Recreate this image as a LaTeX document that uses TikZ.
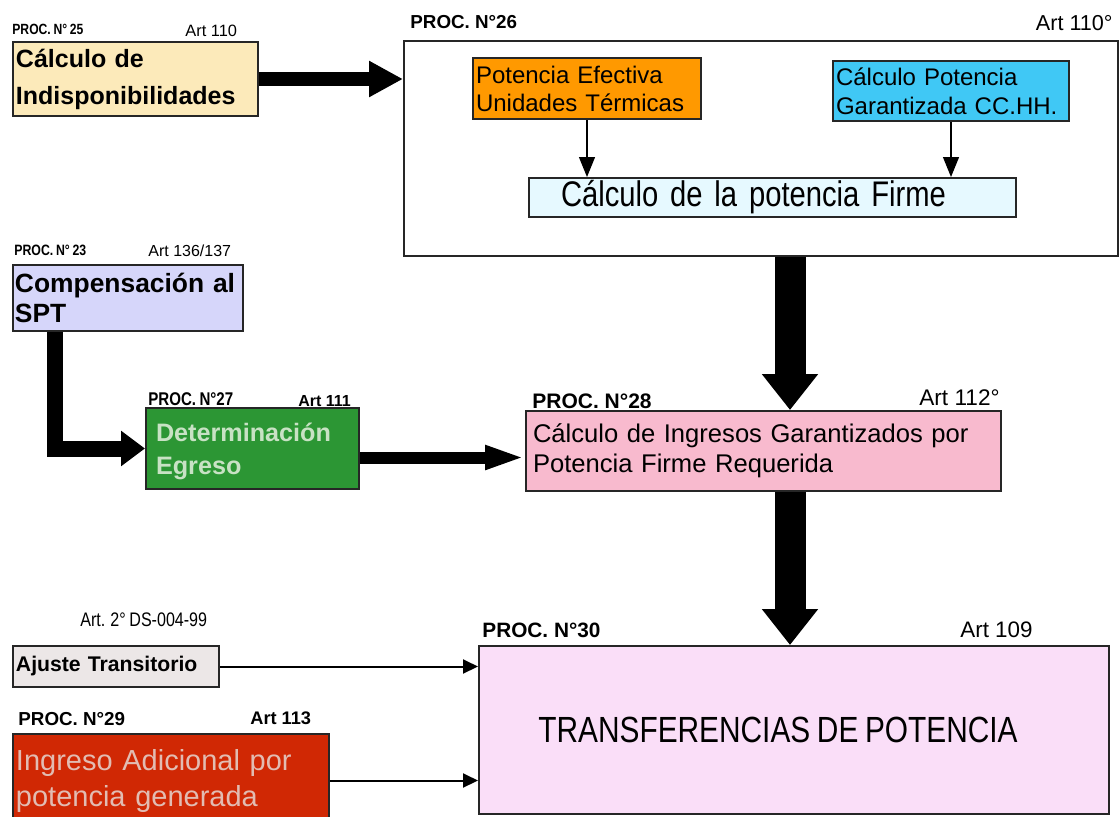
\documentclass[tikz,border=0pt]{standalone}
\usepackage{fontspec}
\setmainfont{Liberation Sans}
\newfontfamily\estrecha{Liberation Sans}[FakeStretch=0.82,WordSpace=0.8]
\usetikzlibrary{arrows.meta}
\newcommand{\fsz}[2]{\fontsize{#1pt}{#2pt}\selectfont}
\definecolor{indispfill}{RGB}{252,234,186}
\definecolor{efectfill}{RGB}{255,153,0}
\definecolor{garanfill}{RGB}{64,200,245}
\definecolor{firmefill}{RGB}{230,249,255}
\definecolor{compfill}{RGB}{214,214,250}
\definecolor{egrefill}{RGB}{44,150,52}
\definecolor{egretext}{RGB}{200,226,196}
\definecolor{ingrfill}{RGB}{248,186,206}
\definecolor{transfill}{RGB}{250,222,248}
\definecolor{ajusfill}{RGB}{236,231,231}
\definecolor{adicfill}{RGB}{208,40,4}
\definecolor{adictext}{RGB}{226,188,178}
\begin{document}
\begin{tikzpicture}[x=0.5pt,y=-0.5pt,
 caja/.style={draw=black!85,line width=1pt,anchor=north west,inner xsep=1.5pt,inner ysep=0pt,align=left},
 etiq/.style={inner sep=0pt,anchor=base west},
 flechagruesa/.style={line width=7pt,-{Triangle[length=17pt,width=17pt]}},
 flechagrande/.style={line width=15.5pt,-{Triangle[length=18pt,width=27pt]}},
 flechacodo/.style={line width=8pt,-{Triangle[length=12pt,width=17pt]}},
 flechamedia/.style={line width=6pt,-{Triangle[length=20pt,width=11pt]}},
 flechafina/.style={line width=1pt,-{Triangle[length=7.5pt,width=7pt]}},
 flechainterna/.style={line width=0.6pt,-{Triangle[length=10pt,width=8pt]}}]
 \useasboundingbox (0,0) rectangle (1120,816);
 \node[caja,fill=indispfill,minimum height=37pt,text width=119.5pt,font=\bfseries\fsz{12.5}{18.5}] (indisp) at (12,41) {Cálculo de\\Indisponibilidades};
 \node[caja,fill=white,line width=0.8pt,minimum width=357pt,minimum height=107.5pt] (potfirme) at (403,40) {};
 \node[caja,fill=efectfill,minimum height=30.5pt,text width=111pt,font=\fsz{12}{14}] (efectiva) at (472,57) {Potencia Efectiva\\Unidades Térmicas};
 \node[caja,fill=garanfill,minimum height=30pt,text width=115pt,font=\fsz{12}{14.5}] (garant) at (832,60) {Cálculo Potencia\\Garantizada CC.HH.};
 \node[caja,fill=firmefill,inner xsep=16pt,minimum height=19.5pt,text width=211.5pt,font=\estrecha\fsz{17.8}{20}] (firme) at (528,177) {Cálculo de la potencia Firme};
 \node[caja,fill=compfill,inner xsep=1pt,minimum height=33pt,text width=113pt,font=\bfseries\fsz{13.2}{15}] (compens) at (12,264) {Compensación al\\SPT};
 \node[caja,fill=egrefill,text=egretext,inner xsep=5pt,minimum height=40.5pt,text width=96.5pt,font=\bfseries\fsz{12.6}{16.5}] (egreso) at (145,407) {\rule{0pt}{12pt}Determinación\\Egreso};
 \node[caja,fill=ingrfill,inner xsep=3.5pt,minimum height=40pt,text width=230.5pt,font=\fsz{12.8}{15}] (ingresos) at (525,410) {Cálculo de Ingresos Garantizados por\\Potencia Firme Requerida};
 \node[caja,fill=transfill,align=center,minimum width=315pt,minimum height=84pt,font=\estrecha\fsz{18.2}{20}] (transf) at (478,645) {TRANSFERENCIAS DE POTENCIA\hspace*{16pt}};
 \node[caja,fill=ajusfill,minimum height=20.5pt,text width=100pt,font=\bfseries\fsz{10.6}{13}] (ajuste) at (12,645) {Ajuste Transitorio};
 \node[caja,fill=adicfill,text=adictext,minimum height=46.5pt,text width=155pt,font=\fsz{14.5}{18}] (adicional) at (12,733) {Ingreso Adicional por\\potencia generada};
 \node[etiq,font=\estrecha\bfseries\fsz{7.4}{8}] (p25) at (12,34) {PROC. N° 25};
 \node[etiq,font=\fsz{8.2}{9}] (a25) at (185,36) {Art 110};
 \node[etiq,font=\bfseries\fsz{9.4}{10}] (p26) at (410,28) {PROC. N°26};
 \node[etiq,anchor=base east,font=\fsz{10.8}{12}] (a26) at (1113,30) {Art 110°};
 \node[etiq,font=\estrecha\bfseries\fsz{7.5}{8}] (p23) at (14,255) {PROC. N° 23};
 \node[etiq,font=\fsz{8}{9}] (a23) at (148,256) {Art 136/137};
 \node[etiq,font=\estrecha\bfseries\fsz{9.2}{10}] (p27) at (148,405) {PROC. N°27};
 \node[etiq,font=\bfseries\fsz{8}{9}] (a27) at (298,406) {Art 111};
 \node[etiq,font=\bfseries\fsz{10.5}{12}] (p28) at (532,408) {PROC. N°28};
 \node[etiq,anchor=base east,font=\fsz{11.3}{12}] (a28) at (1000,405) {Art 112°};
 \node[etiq,font=\estrecha\fsz{9.8}{10}] (aaj) at (80,626) {Art. 2° DS-004-99};
 \node[etiq,font=\bfseries\fsz{9.4}{10}] (p29) at (18,725) {PROC. N°29};
 \node[etiq,font=\bfseries\fsz{9.1}{10}] (a29) at (250,724) {Art 113};
 \node[etiq,font=\bfseries\fsz{10.4}{12}] (p30) at (482,637) {PROC. N°30};
 \node[etiq,font=\fsz{11.2}{12}] (a30) at (960,637) {Art 109};
 \coordinate (xgrande) at (790,0);
 \coordinate (xcodo) at (55,0);
 \draw[flechagruesa] (indisp.east) -- (indisp.east -| potfirme.west);
 \draw[flechainterna] (efectiva.south) -- (efectiva.south |- firme.north);
 \draw[flechainterna] (garant.south) -- (garant.south |- firme.north);
 \draw[flechagrande] (potfirme.south -| xgrande) -- (ingresos.north -| xgrande);
 \draw[flechacodo] (compens.south -| xcodo) |- (egreso.west);
 \draw[flechamedia] ([yshift=-4.5pt]egreso.east) -- ([yshift=-4.5pt]egreso.east -| ingresos.west);
 \draw[flechagrande] (ingresos.south -| xgrande) -- (transf.north -| xgrande);
 \draw[flechafina] (ajuste.east) -- (ajuste.east -| transf.west);
 \draw[flechafina] (adicional.east) -- (adicional.east -| transf.west);
\end{tikzpicture}
\end{document}
